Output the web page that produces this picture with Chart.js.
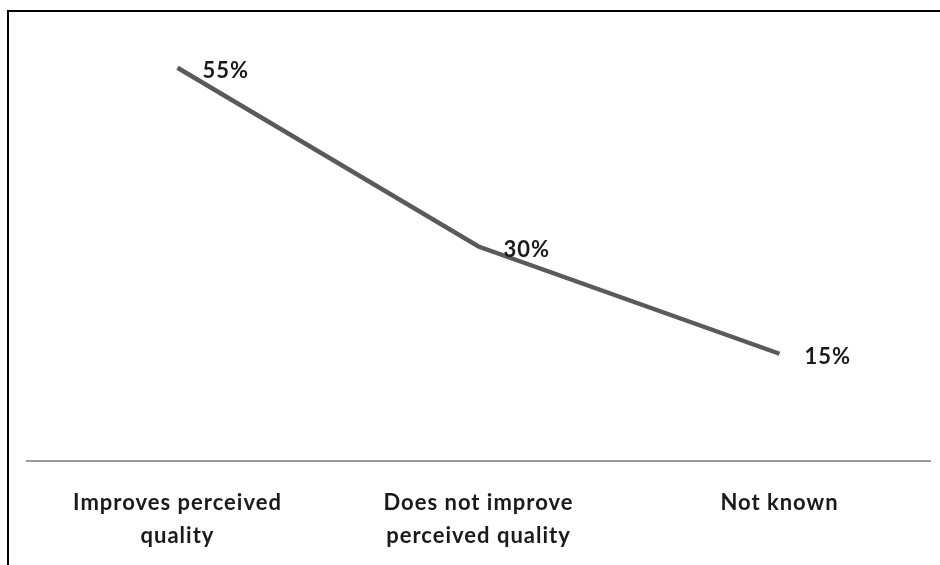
<!DOCTYPE html>
<html>
<head>
<meta charset="utf-8">
<script src="https://cdn.jsdelivr.net/npm/chart.js@4/dist/chart.umd.min.js"></script>
<style>
  html, body { margin: 0; padding: 0; background: #fff; }
  #wrap { position: relative; width: 940px; height: 565px; }
</style>
</head>
<body>
<div id="wrap"><canvas id="chart" width="940" height="565"></canvas></div>
<script>
// Survey answers and their shares (percent)
const categories = [
  ['Improves perceived', 'quality'],
  ['Does not improve', 'perceived quality'],
  'Not known'
];
const shares = [55, 30, 15];
const valueLabels = ['55%', '30%', '15%'];

const labelFont = { family: 'Lato, "Open Sans", sans-serif', size: 22, weight: '700' };

// Slightly open letter spacing for all text on the canvas
const spacingPlugin = {
  id: 'spacing',
  beforeUpdate(chart) { chart.ctx.letterSpacing = '1px'; },
  beforeDraw(chart) { chart.ctx.letterSpacing = '1px'; }
};

// Frame around the chart (top and left edges are visible)
const framePlugin = {
  id: 'frame',
  afterDraw(chart) {
    const ctx = chart.ctx;
    ctx.save();
    ctx.strokeStyle = '#000';
    ctx.lineWidth = 2;
    ctx.beginPath();
    ctx.moveTo(8, 600);
    ctx.lineTo(8, 11);
    ctx.lineTo(960, 11);
    ctx.stroke();
    ctx.restore();
  }
};

// Percent labels placed to the right of each point
const valueLabelPlugin = {
  id: 'valueLabels',
  afterDatasetsDraw(chart) {
    const ctx = chart.ctx;
    const meta = chart.getDatasetMeta(0);
    ctx.save();
    ctx.font = `${labelFont.weight} ${labelFont.size}px ${labelFont.family}`;
    ctx.fillStyle = '#1a1a1a';
    ctx.textAlign = 'left';
    ctx.textBaseline = 'middle';
    meta.data.forEach((pt, i) => {
      ctx.fillText(valueLabels[i], pt.x + 25, pt.y + 3);
    });
    ctx.restore();
  }
};

new Chart(document.getElementById('chart'), {
  type: 'line',
  data: {
    labels: categories,
    datasets: [{
      data: shares,
      borderColor: '#5a5a5a',
      borderWidth: 4.5,
      pointRadius: 0,
      pointHoverRadius: 0,
      tension: 0,
      fill: false
    }]
  },
  options: {
    responsive: false,
    animation: false,
    layout: { padding: { left: 27, right: 10, top: 32, bottom: 0 } },
    plugins: { legend: { display: false }, tooltip: { enabled: false } },
    scales: {
      x: {
        offset: true,
        grid: { display: false, drawTicks: false },
        border: { display: true, color: '#9a9a9a', width: 2 },
        ticks: {
          color: '#1a1a1a',
          font: { ...labelFont, lineHeight: 1.5 },
          padding: 25,
          maxRotation: 0,
          autoSkip: false
        },
        afterFit(scale) { scale.height = 104; }
      },
      y: {
        display: false,
        min: 0,
        max: 60
      }
    }
  },
  plugins: [spacingPlugin, framePlugin, valueLabelPlugin]
});
</script>
</body>
</html>
